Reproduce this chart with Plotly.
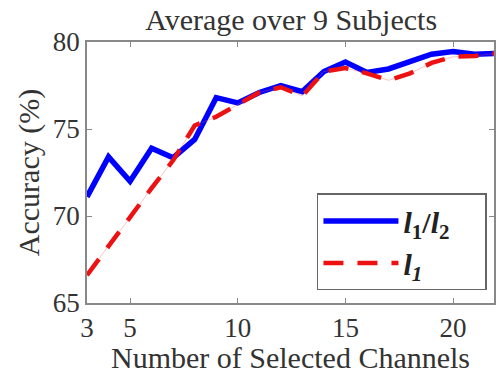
import plotly.graph_objects as go

channels = list(range(3, 23))
acc_l1l2 = [71.1, 73.4, 72.0, 73.9, 73.35, 74.4, 76.8, 76.5, 77.1, 77.5, 77.15,
            78.3, 78.85, 78.25, 78.45, 78.9, 79.3, 79.45, 79.3, 79.35]
acc_l1 = [66.6, 68.3, 69.9, 71.6, 73.2, 75.2, 75.7, 76.4, 77.1, 77.4, 76.9,
          78.3, 78.5, 78.2, 77.8, 78.2, 78.8, 79.15, 79.2, 79.35]

x_ticks = [3, 5, 10, 15, 20]
y_ticks = [65, 70, 75, 80]

FONT = "Liberation Serif"

fig = go.Figure()
fig.add_trace(go.Scatter(x=channels, y=acc_l1l2, mode="lines",
                         line=dict(color="#0000ff", width=5.5),
                         name="<b><i>l</i><sub>1</sub>/<i>l</i><sub>2</sub></b>&nbsp;&nbsp;&nbsp;&nbsp;"))
fig.add_trace(go.Scatter(x=channels, y=acc_l1, mode="lines",
                         line=dict(color="rgba(255,80,80,0.35)", width=1),
                         showlegend=False, hoverinfo="skip"))
fig.add_trace(go.Scatter(x=channels, y=acc_l1, mode="lines",
                         line=dict(color="#ee1111", width=4.5, dash="20px,14px"),
                         name="<b><i>l<sub>1</sub></i></b>"))

fig.update_layout(
    width=496, height=374,
    margin=dict(l=87, r=0, t=42, b=71),
    paper_bgcolor="white", plot_bgcolor="white",
    font=dict(family=FONT, color="#333333", size=26),
    title=dict(text="Average over 9 Subjects", x=0.587, xanchor="center",
               y=0.948, yanchor="middle", font=dict(size=30, color="#333333")),
    xaxis=dict(range=[3, 21.9], tickvals=x_ticks, ticks="inside", ticklen=5,
               tickcolor="#888888", showline=True, linecolor="#888888", linewidth=1.5,
               mirror="ticks", showgrid=False, zeroline=False,
               tickfont=dict(size=27),
               title=dict(text="Number of Selected Channels", font=dict(size=30), standoff=4)),
    yaxis=dict(range=[65, 80], tickvals=y_ticks, ticks="inside", ticklen=5,
               tickcolor="#888888", showline=True, linecolor="#888888", linewidth=1.5,
               mirror="ticks", showgrid=False, zeroline=False,
               tickfont=dict(size=27),
               title=dict(text="Accuracy (%)", font=dict(size=30), standoff=4)),
    legend=dict(x=0.565, y=0.42, xanchor="left", yanchor="top",
                bordercolor="#666666", borderwidth=1.5, bgcolor="white",
                font=dict(size=30, color="#222222"), itemwidth=75,
                tracegroupgap=0),
    showlegend=True,
)

fig.write_html("out.html")
